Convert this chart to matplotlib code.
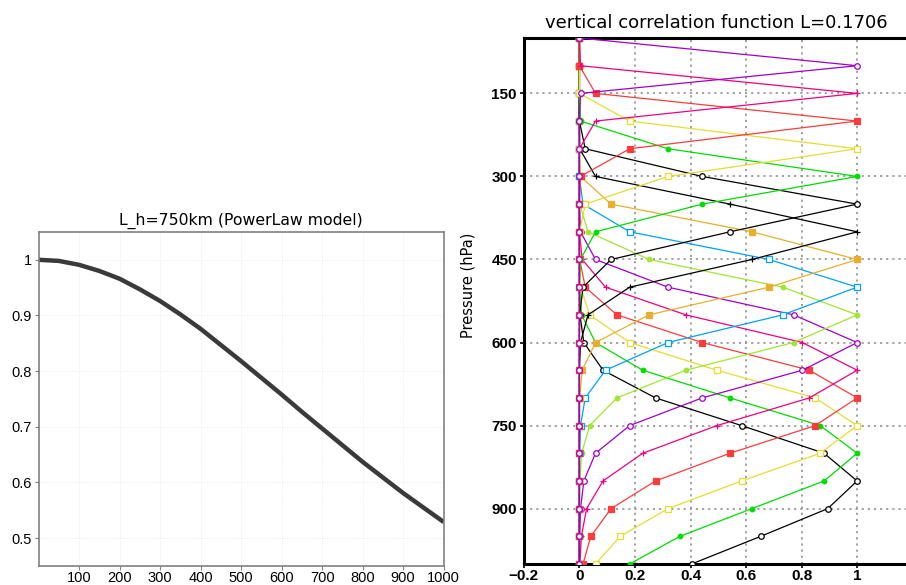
from matplotlib import pyplot as plt
import numpy as np

# horizontal correlation (PowerLaw model, L_h = 750 km)
dist_km = [0, 50, 100, 150, 200, 250, 300, 350, 400, 450, 500,
           550, 600, 650, 700, 750, 800, 850, 900, 950, 1000]
corr_h = [1.0, 0.998, 0.991, 0.980, 0.966, 0.947, 0.926, 0.902, 0.876, 0.847, 0.818,
          0.788, 0.758, 0.727, 0.697, 0.667, 0.637, 0.609, 0.581, 0.555, 0.529]

# vertical correlation, one profile per reference level
levels = [50, 100, 150, 200, 250, 300, 350, 400, 450, 500,
          550, 600, 650, 700, 750, 800, 850, 900, 950, 1000]
ref_levels = [100, 150, 200, 250, 300, 350, 400, 450,
              500, 550, 600, 650, 700, 750, 800, 850]

corr_100 = [0, 1, 0.004, 0, 0, 0, 0, 0, 0, 0, 0, 0, 0, 0, 0, 0, 0, 0, 0, 0]
corr_150 = [0, 0.004, 1, 0.058, 0, 0, 0, 0, 0, 0, 0, 0, 0, 0, 0, 0, 0, 0, 0, 0]
corr_200 = [0, 0, 0.058, 1, 0.181, 0.004, 0, 0, 0, 0, 0, 0, 0, 0, 0, 0, 0, 0, 0, 0]
corr_250 = [0, 0, 0, 0.181, 1, 0.319, 0.021, 0.001, 0, 0, 0, 0, 0, 0, 0, 0, 0, 0, 0, 0]
corr_300 = [0, 0, 0, 0.004, 0.319, 1, 0.442, 0.058, 0.004, 0, 0, 0, 0, 0, 0, 0, 0, 0, 0, 0]
corr_350 = [0, 0, 0, 0, 0.021, 0.442, 1, 0.542, 0.114, 0.013, 0.001, 0, 0, 0, 0, 0, 0, 0, 0, 0]
corr_400 = [0, 0, 0, 0, 0.001, 0.058, 0.542, 1, 0.621, 0.181, 0.031, 0.004, 0, 0, 0, 0, 0, 0, 0, 0]
corr_450 = [0, 0, 0, 0, 0, 0.004, 0.114, 0.621, 1, 0.683, 0.251, 0.058, 0.010, 0.001, 0, 0, 0, 0, 0, 0]
corr_500 = [0, 0, 0, 0, 0, 0, 0.013, 0.181, 0.683, 1, 0.732, 0.319, 0.094, 0.021, 0.004, 0.001, 0, 0, 0, 0]
corr_550 = [0, 0, 0, 0, 0, 0, 0.001, 0.031, 0.251, 0.732, 1, 0.771, 0.383, 0.135, 0.037, 0.008, 0.002, 0, 0, 0]
corr_600 = [0, 0, 0, 0, 0, 0, 0, 0.004, 0.058, 0.319, 0.771, 1, 0.803, 0.442, 0.181, 0.058, 0.016, 0.004, 0.001, 0]
corr_650 = [0, 0, 0, 0, 0, 0, 0, 0, 0.010, 0.094, 0.383, 0.803, 1, 0.828, 0.495, 0.228, 0.085, 0.026, 0.007, 0.002]
corr_700 = [0, 0, 0, 0, 0, 0, 0, 0, 0.001, 0.021, 0.135, 0.442, 0.828, 1, 0.849, 0.542, 0.274, 0.114, 0.041, 0.013]
corr_750 = [0, 0, 0, 0, 0, 0, 0, 0, 0, 0.004, 0.037, 0.181, 0.495, 0.849, 1, 0.867, 0.584, 0.319, 0.147, 0.058]
corr_800 = [0, 0, 0, 0, 0, 0, 0, 0, 0, 0.001, 0.008, 0.058, 0.228, 0.542, 0.867, 1, 0.881, 0.621, 0.362, 0.181]
corr_850 = [0, 0, 0, 0, 0, 0, 0, 0, 0, 0, 0.002, 0.016, 0.085, 0.274, 0.584, 0.881, 1, 0.894, 0.653, 0.404]

profiles = [corr_100, corr_150, corr_200, corr_250, corr_300, corr_350, corr_400, corr_450,
            corr_500, corr_550, corr_600, corr_650, corr_700, corr_750, corr_800, corr_850]

# grads-like colour / marker cycle: (colour, marker, filled)
STYLES = [
    ('#000000', 'o', False),
    ('#000000', '+', False),
    ('#e6af2d', 's', True),
    ('#00a0ff', 's', False),
    ('#a0e632', 'o', True),
    ('#a000c8', 'o', False),
    ('#f00082', '+', False),
    ('#fa3c3c', 's', True),
    ('#e6dc32', 's', False),
    ('#00dc00', 'o', True),
]

TICK_FONT = 'Liberation Sans'


def go():
    fig = plt.figure(figsize=(9.06, 5.85), dpi=100)
    _plot_horizontal(fig.add_axes([0.0425, 0.0325, 0.4472, 0.571]))
    _plot_vertical(fig.add_axes([0.5782, 0.0359, 0.4292, 0.8991]))
    fig.savefig('out.png', dpi=100)


def _plot_horizontal(ax):
    ax.plot(dist_km, corr_h, color='#3a3a3a', lw=3.2, solid_capstyle='butt')
    ax.set_xlim(0, 1000)
    ax.set_ylim(0.45, 1.05)
    ax.set_xticks(range(100, 1001, 100))
    ax.set_yticks([0.5, 0.6, 0.7, 0.8, 0.9, 1.0])
    ax.set_yticklabels(['0.5', '0.6', '0.7', '0.8', '0.9', '1'])
    ax.grid(True, color='#e4e4e4', lw=0.6, ls=(0, (1, 2)))
    for s in ax.spines.values():
        s.set_color('#808080')
        s.set_linewidth(1.2)
    ax.tick_params(direction='out', length=3, width=0.8, color='#808080', pad=2)
    ax.tick_params(axis='x', pad=0.5)
    for lab in ax.get_xticklabels() + ax.get_yticklabels():
        lab.set_family(TICK_FONT)
        lab.set_fontsize(10.5)
    ax.set_title('L_h=750km (PowerLaw model)', pad=5, family='DejaVu Sans', size=11.3)


def _plot_vertical(ax):
    # draw from the bottom profile up, so the top ones sit on the zero line
    for i in reversed(range(len(profiles))):
        color, marker, filled = STYLES[(i + 5) % len(STYLES)]
        ms = 4 if marker == 's' else (3.3 if filled else 4)
        if marker == '+':
            ms = 5
        ax.plot(profiles[i], levels, color=color, lw=0.9, marker=marker, ms=ms,
                mew=0.9, mfc=color if filled else 'white', mec=color, zorder=3)

    ax.set_xlim(-0.2, 1.2)
    ax.set_ylim(1000, 50)
    ax.set_xticks([-0.2, 0, 0.2, 0.4, 0.6, 0.8, 1.0])
    ax.set_xticklabels(['\u22120.2', '0', '0.2', '0.4', '0.6', '0.8', '1'])
    ax.set_yticks([150, 300, 450, 600, 750, 900])
    ax.grid(True, color='#9a9a9a', lw=1.3, ls=(0, (1.2, 2.2)), zorder=1)
    for s in ax.spines.values():
        s.set_color('black')
        s.set_linewidth(2.2)
    ax.spines['right'].set_visible(False)
    ax.tick_params(direction='out', length=3, width=1.2, pad=2)
    ax.tick_params(axis='x', pad=0.5)
    for lab in ax.get_xticklabels() + ax.get_yticklabels():
        lab.set_family(TICK_FONT)
        lab.set_fontsize(11)
        lab.set_fontweight('bold')
    ax.set_ylabel('Pressure (hPa)', family='DejaVu Sans', fontsize=10.5)
    ax.yaxis.set_label_coords(-0.125, 0.53)
    ax.set_title('vertical correlation function L=0.1706', pad=7, loc='left',
                 x=0.055, family='DejaVu Sans', size=13)


go()
